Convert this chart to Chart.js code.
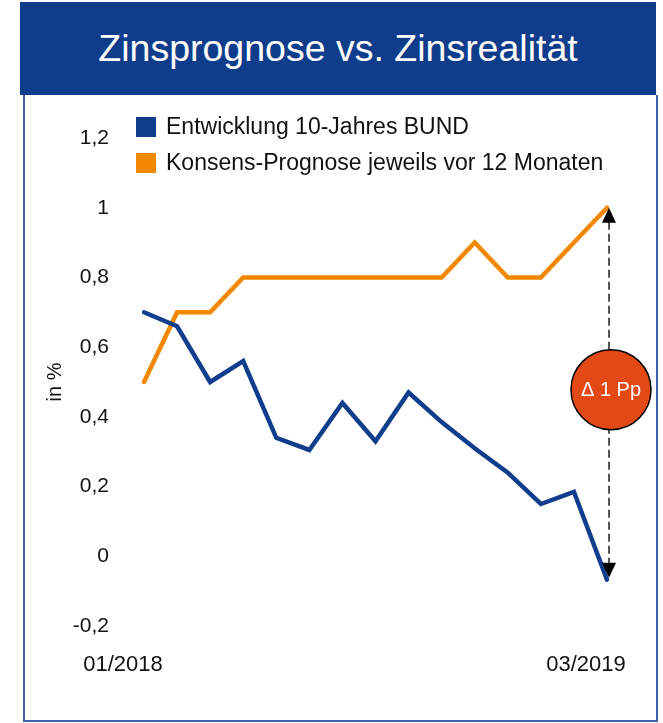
<!DOCTYPE html>
<html lang="de">
<head>
<meta charset="utf-8">
<title>Zinsprognose vs. Zinsrealität</title>
<script src="https://cdn.jsdelivr.net/npm/chart.js@4.4.1/dist/chart.umd.min.js"></script>
<style>
  html, body { margin: 0; padding: 0; background: #fff; }
  #wrap { position: relative; width: 663px; height: 723px; overflow: hidden; font-family: "Liberation Sans", Arial, sans-serif; }
  #banner { position: absolute; left: 20px; top: 2px; width: 636px; height: 93px; background: #103d8b; color: #fff; font-size: 37.5px; line-height: 93px; text-align: center; }
  #frame { position: absolute; left: 23px; top: 95px; width: 631px; height: 625px; border: 2px solid #3d5fa8; border-top: none; }
  #chartZins { position: absolute; left: 0; top: 0; }
</style>
</head>
<body>
<div id="wrap">
  <div id="banner">Zinsprognose vs. Zinsrealität</div>
  <div id="frame"></div>
  <canvas id="chartZins" width="663" height="723"></canvas>
</div>
<script>
// Monate Jan 2018 bis Mär 2019
const monate = ['01/2018', '02/2018', '03/2018', '04/2018', '05/2018', '06/2018', '07/2018', '08/2018',
    '09/2018', '10/2018', '11/2018', '12/2018', '01/2019', '02/2019', '03/2019'];
const bundRendite = [0.70, 0.66, 0.50, 0.56, 0.34, 0.305, 0.44, 0.33, 0.47, 0.385, 0.31, 0.24, 0.15, 0.185, -0.067];
const konsensPrognose = [0.5, 0.7, 0.7, 0.8, 0.8, 0.8, 0.8, 0.8, 0.8, 0.8, 0.9, 0.8, 0.8, 0.9, 1.0];
const yMin = -0.2;
const yMax = 1.2;
const yStep = 0.2;
const deltaText = '\u0394 1 Pp';

const fontName = '"Liberation Sans", Arial, sans-serif';
const blau = '#113e8c';
const orange = '#f28700';

// Legende oben links, zum Teil im Diagrammbereich
const legendeBox = {
    id: 'legendeBox',
    afterDraw(chart) {
        const ctx = chart.ctx;
        const area = chart.chartArea;
        ctx.save();
        ctx.font = '23px ' + fontName;
        ctx.textBaseline = 'middle';
        ctx.textAlign = 'left';
        chart.data.datasets.forEach((ds, i) => {
            const cy = area.top - 11 + i * 36;
            ctx.fillStyle = ds.borderColor;
            ctx.fillRect(area.left - 8, cy - 10, 20, 20);
            ctx.fillStyle = '#111';
            ctx.fillText(ds.label, area.left + 22, cy + 1);
        });
        ctx.restore();
    }
};

// Pfeil zwischen Prognose und Realität am letzten Punkt
const deltaPfeil = {
    id: 'deltaPfeil',
    afterDatasetsDraw(chart) {
        const ctx = chart.ctx;
        const xs = chart.scales.x;
        const ys = chart.scales.y;
        const last = monate.length - 1;
        const x = xs.getPixelForValue(last) + 2;
        const yTop = ys.getPixelForValue(konsensPrognose[last]);
        const yBot = ys.getPixelForValue(bundRendite[last]) - 2;
        const cy = (yTop + yBot) / 2 - 3;
        ctx.save();
        ctx.strokeStyle = '#555';
        ctx.lineWidth = 2;
        ctx.setLineDash([8, 4]);
        ctx.beginPath();
        ctx.moveTo(x, yTop + 14);
        ctx.lineTo(x, yBot - 14);
        ctx.stroke();
        ctx.setLineDash([]);
        ctx.fillStyle = '#000';
        ctx.beginPath();
        ctx.moveTo(x, yTop);
        ctx.lineTo(x - 7, yTop + 15);
        ctx.lineTo(x + 7, yTop + 15);
        ctx.closePath();
        ctx.fill();
        ctx.beginPath();
        ctx.moveTo(x, yBot);
        ctx.lineTo(x - 7, yBot - 15);
        ctx.lineTo(x + 7, yBot - 15);
        ctx.closePath();
        ctx.fill();

        ctx.beginPath();
        ctx.arc(x + 2, cy, 40, 0, Math.PI * 2);
        ctx.fillStyle = '#e34915';
        ctx.fill();
        ctx.lineWidth = 1.5;
        ctx.strokeStyle = '#000';
        ctx.stroke();
        ctx.fillStyle = '#fff';
        ctx.font = '20px ' + fontName;
        ctx.textAlign = 'center';
        ctx.textBaseline = 'middle';
        ctx.fillText(deltaText, x + 2, cy + 1);
        ctx.restore();
    }
};

const ctx = document.getElementById('chartZins').getContext('2d');

const chartZins = new Chart(ctx, {
    type: 'line',
    data: {
        labels: monate,
        datasets: [{
            label: 'Entwicklung 10-Jahres BUND',
            data: bundRendite,
            borderColor: blau,
            backgroundColor: blau,
            borderWidth: 4.5,
            borderCapStyle: 'round',
            pointRadius: 0,
            tension: 0
        }, {
            label: 'Konsens-Prognose jeweils vor 12 Monaten',
            data: konsensPrognose,
            borderColor: orange,
            backgroundColor: orange,
            borderWidth: 4.5,
            borderCapStyle: 'round',
            pointRadius: 0,
            tension: 0
        }]
    },
    options: {
        responsive: false,
        animation: false,
        layout: { padding: { left: 39, right: 56, top: 138, bottom: 37 } },
        plugins: {
            legend: { display: false },
            tooltip: { enabled: false }
        },
        scales: {
            x: {
                offset: false,
                grid: { display: false, drawTicks: false },
                border: { display: false },
                afterFit: s => {
                    s.height = 60;
                    s.paddingLeft = 0;
                    s.paddingRight = 0;
                },
                ticks: {
                    autoSkip: false,
                    maxRotation: 0,
                    padding: 26,
                    labelOffset: -21,
                    color: '#111',
                    font: { family: fontName, size: 22 },
                    callback: (v, i) => (i === 0 || i === monate.length - 1) ? monate[i] : ''
                }
            },
            y: {
                min: yMin,
                max: yMax,
                grid: { display: false, drawTicks: false },
                border: { display: false },
                afterFit: s => { s.width = 105; },
                title: {
                    display: true,
                    text: 'in %',
                    color: '#111',
                    font: { family: fontName, size: 20 }
                },
                ticks: {
                    stepSize: yStep,
                    padding: 35,
                    color: '#111',
                    font: { family: fontName, size: 21 },
                    callback: v => String(Math.round(v * 10) / 10).replace('.', ',')
                }
            }
        }
    },
    plugins: [legendeBox, deltaPfeil]
});
</script>
</body>
</html>
